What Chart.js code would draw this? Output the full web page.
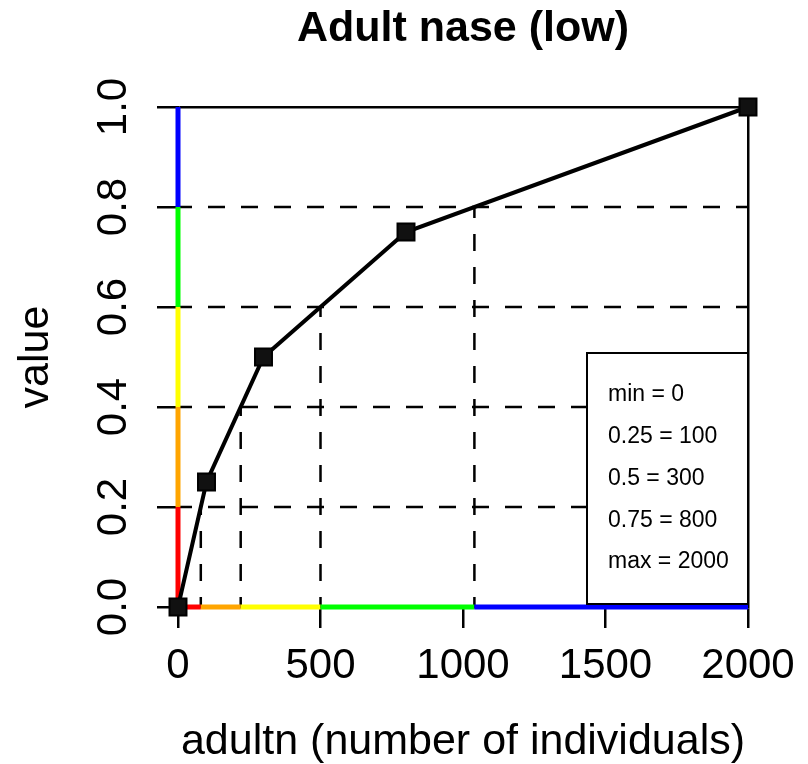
<!DOCTYPE html>
<html>
<head>
<meta charset="utf-8">
<script src="https://cdn.jsdelivr.net/npm/chart.js@4.4.1/dist/chart.umd.min.js"></script>
<style>
  html, body { margin: 0; padding: 0; background: #fff; }
  #wrap { width: 808px; height: 764px; }
</style>
</head>
<body>
<div id="wrap"><canvas id="quant_graph"></canvas></div>
<script>
// curve: number of adults -> value
const adultn = [0, 100, 300, 800, 2000];
const values = [0, 0.25, 0.5, 0.75, 1];

// dashed guide levels and where the curve crosses them
const levels = [0.2, 0.4, 0.6, 0.8];
const crossAt = [80, 220, 500, 1040];
const bandColors = ['#FF0000', '#FFA500', '#FFFF00', '#00FF00', '#0000FF'];

const xTicks = [0, 500, 1000, 1500, 2000];
const xTickLabels = ['0', '500', '1000', '1500', '2000'];
const yTicks = [0, 0.2, 0.4, 0.6, 0.8, 1];
const yTickLabels = ['0.0', '0.2', '0.4', '0.6', '0.8', '1.0'];

const legendNames = ['min', '0.25', '0.5', '0.75', 'max'];
const legendLines = legendNames.map((n, i) => n + ' = ' + adultn[i]);

const FONT = "'Liberation Sans', Arial, Helvetica, sans-serif";
const xMin = adultn[0], xMax = adultn[adultn.length - 1];
const yMin = values[0], yMax = values[values.length - 1];

const ctx = document.getElementById('quant_graph').getContext('2d');

const datasets = [];

datasets.push({
    label: 'curve',
    data: adultn.map((x, i) => ({x: x, y: values[i]})),
    borderColor: '#000',
    borderWidth: 4,
    pointStyle: 'rect',
    pointRadius: 12,
    pointBackgroundColor: '#111',
    pointBorderColor: '#000',
    pointBorderWidth: 2,
    clip: false,
});

// coloured bands along the y axis
datasets.push({
    label: 'ybands',
    data: [yMin, ...levels, yMax].map(y => ({x: xMin, y: y})),
    borderWidth: 5,
    pointRadius: 0,
    segment: { borderColor: c => bandColors[c.p0DataIndex] },
    clip: false,
});

// coloured bands along the x axis
datasets.push({
    label: 'xbands',
    data: [xMin, ...crossAt, xMax].map(x => ({x: x, y: yMin})),
    borderWidth: 5,
    pointRadius: 0,
    segment: { borderColor: c => bandColors[c.p0DataIndex] },
    clip: false,
});

levels.forEach((lv, i) => {
    datasets.push({
        label: 'v' + lv,
        data: [{x: crossAt[i], y: yMin}, {x: crossAt[i], y: lv}],
        borderColor: '#000',
        borderWidth: 2.5,
        borderDash: [17, 16],
        borderDashOffset: 7,
        pointRadius: 0,
    });
    datasets.push({
        label: 'h' + lv,
        data: [{x: xMin, y: lv}, {x: xMax, y: lv}],
        borderColor: '#000',
        borderWidth: 2.5,
        borderDash: [17, 16],
        borderDashOffset: 3,
        pointRadius: 0,
    });
});

const quantBox = {
    id: 'quantBox',
    afterDatasetsDraw(chart) {
        const c = chart.ctx, area = chart.chartArea;
        const w = 161, h = 251;
        const left = area.right - w, top = area.bottom - 3 - h;
        c.save();
        c.fillStyle = '#fff';
        c.fillRect(left, top, w, h);
        c.strokeStyle = '#000';
        c.lineWidth = 2;
        c.strokeRect(left, top, w, h);
        c.fillStyle = '#000';
        c.font = '23px ' + FONT;
        c.textBaseline = 'middle';
        c.textAlign = 'left';
        legendLines.forEach((t, i) => c.fillText(t, left + 21, top + 42 + i * 41.75));
        c.restore();
    }
};

const quant_graph = new Chart(ctx, {
    type: 'line',
    data: { datasets: datasets },
    plugins: [quantBox],
    options: {
        responsive: true,
        maintainAspectRatio: false,
        animation: false,
        events: [],
        layout: { padding: {left: 0, right: 60, top: 0, bottom: 0} },
        plugins: {
            legend: { display: false },
            tooltip: { enabled: false },
            title: {
                display: true,
                fullSize: false,
                text: 'Adult nase (low)',
                color: '#000',
                font: { family: FONT, size: 43, weight: 'bold', lineHeight: 1 },
                padding: { top: 7.5, bottom: 56.5 },
            },
        },
        scales: {
            x: {
                type: 'linear',
                min: xMin,
                max: xMax,
                afterBuildTicks: s => { s.ticks = xTicks.map(v => ({value: v})); },
                afterFit: s => { s.height = 157; },
                ticks: {
                    callback: (v, i) => xTickLabels[i],
                    color: '#000',
                    font: { family: FONT, size: 42 },
                    padding: 13,
                    maxRotation: 0,
                    autoSkip: false,
                },
                grid: {
                    color: c => (c.tick && c.tick.value === xMax) ? '#000' : 'rgba(0,0,0,0)',
                    lineWidth: 2.5,
                    tickColor: '#000',
                    tickLength: 21,
                    tickWidth: 2.5,
                },
                border: { display: true, color: '#000', width: 2.5 },
                title: {
                    display: true,
                    text: 'adultn (number of individuals)',
                    color: '#000',
                    font: { family: FONT, size: 43, lineHeight: 1 },
                    padding: { top: 0, bottom: 0 },
                },
            },
            y: {
                type: 'linear',
                min: yMin,
                max: yMax,
                afterBuildTicks: s => { s.ticks = yTicks.map(v => ({value: v})); },
                afterFit: s => { s.width = 178; },
                ticks: {
                    callback: (v, i) => yTickLabels[i],
                    color: '#000',
                    font: { family: FONT, size: 42 },
                    padding: 13,
                    minRotation: 90,
                    maxRotation: 90,
                    crossAlign: 'center',
                    autoSkip: false,
                },
                grid: {
                    color: c => (c.tick && c.tick.value === yMax) ? '#000' : 'rgba(0,0,0,0)',
                    lineWidth: 2.5,
                    tickColor: '#000',
                    tickLength: 21,
                    tickWidth: 2.5,
                },
                border: { display: true, color: '#000', width: 2.5 },
                title: {
                    display: true,
                    text: 'value',
                    color: '#000',
                    font: { family: FONT, size: 43, lineHeight: 1 },
                    padding: { top: 15, bottom: 0 },
                },
            },
        },
    },
});
</script>
</body>
</html>
